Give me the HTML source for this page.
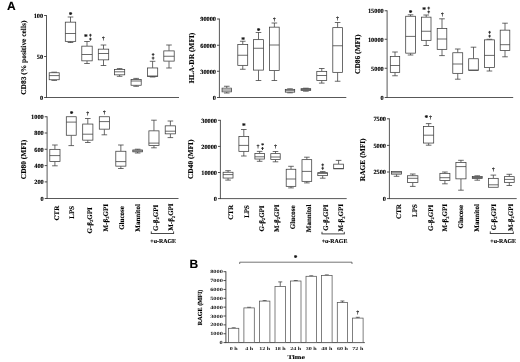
<!DOCTYPE html>
<html><head><meta charset="utf-8"><style>
html,body{margin:0;padding:0;background:#fff;}
svg{display:block;position:absolute;left:0;top:0;filter:grayscale(1);}
text{fill:#000;text-rendering:geometricPrecision;stroke:#000;stroke-width:0.12px;}
</style></head><body>
<svg width="520" height="362" viewBox="0 0 520 362">
<rect x="0" y="0" width="520" height="362" fill="#fff"/>
<line x1="46.50" y1="15.10" x2="46.50" y2="97.90" stroke="#3a3a3a" stroke-width="0.85"/>
<line x1="46.10" y1="97.50" x2="179.00" y2="97.50" stroke="#3a3a3a" stroke-width="0.85"/>
<line x1="44.10" y1="15.50" x2="46.50" y2="15.50" stroke="#3a3a3a" stroke-width="0.9"/>
<text x="43.10" y="17.80" font-size="6.3" text-anchor="end" font-weight="bold" font-family="Liberation Serif, serif" >100</text>
<line x1="44.10" y1="56.50" x2="46.50" y2="56.50" stroke="#3a3a3a" stroke-width="0.9"/>
<text x="43.10" y="58.80" font-size="6.3" text-anchor="end" font-weight="bold" font-family="Liberation Serif, serif" >50</text>
<line x1="44.10" y1="97.50" x2="46.50" y2="97.50" stroke="#3a3a3a" stroke-width="0.9"/>
<text x="43.10" y="99.80" font-size="6.3" text-anchor="end" font-weight="bold" font-family="Liberation Serif, serif" >0</text>
<text x="25.80" y="57.70" font-size="7.45" text-anchor="middle" font-weight="bold" font-family="Liberation Serif, serif" transform="rotate(-90 25.80 57.70)" >CD83 (% positive cells)</text>
<line x1="54.20" y1="72.20" x2="54.20" y2="72.60" stroke="#3a3a3a" stroke-width="0.75"/>
<line x1="51.40" y1="72.20" x2="57.00" y2="72.20" stroke="#3a3a3a" stroke-width="0.75"/>
<line x1="54.20" y1="79.90" x2="54.20" y2="80.40" stroke="#3a3a3a" stroke-width="0.75"/>
<line x1="51.40" y1="80.40" x2="57.00" y2="80.40" stroke="#3a3a3a" stroke-width="0.75"/>
<rect x="49.20" y="72.75" width="10.00" height="7.00" fill="#fff" stroke="#3a3a3a" stroke-width="0.75"/>
<line x1="49.20" y1="75.60" x2="59.20" y2="75.60" stroke="#3a3a3a" stroke-width="0.75"/>
<line x1="70.50" y1="17.00" x2="70.50" y2="22.00" stroke="#3a3a3a" stroke-width="0.75"/>
<line x1="67.70" y1="17.00" x2="73.30" y2="17.00" stroke="#3a3a3a" stroke-width="0.75"/>
<line x1="70.50" y1="41.50" x2="70.50" y2="42.50" stroke="#3a3a3a" stroke-width="0.75"/>
<line x1="67.70" y1="42.50" x2="73.30" y2="42.50" stroke="#3a3a3a" stroke-width="0.75"/>
<rect x="65.30" y="22.15" width="10.40" height="19.20" fill="#fff" stroke="#3a3a3a" stroke-width="0.75"/>
<line x1="65.30" y1="33.50" x2="75.70" y2="33.50" stroke="#3a3a3a" stroke-width="0.75"/>
<line x1="87.00" y1="41.50" x2="87.00" y2="46.00" stroke="#3a3a3a" stroke-width="0.75"/>
<line x1="84.20" y1="41.50" x2="89.80" y2="41.50" stroke="#3a3a3a" stroke-width="0.75"/>
<line x1="87.00" y1="61.00" x2="87.00" y2="63.50" stroke="#3a3a3a" stroke-width="0.75"/>
<line x1="84.20" y1="63.50" x2="89.80" y2="63.50" stroke="#3a3a3a" stroke-width="0.75"/>
<rect x="81.80" y="46.15" width="10.40" height="14.70" fill="#fff" stroke="#3a3a3a" stroke-width="0.75"/>
<line x1="81.80" y1="54.50" x2="92.20" y2="54.50" stroke="#3a3a3a" stroke-width="0.75"/>
<line x1="103.50" y1="45.00" x2="103.50" y2="49.00" stroke="#3a3a3a" stroke-width="0.75"/>
<line x1="100.70" y1="45.00" x2="106.30" y2="45.00" stroke="#3a3a3a" stroke-width="0.75"/>
<line x1="103.50" y1="60.00" x2="103.50" y2="65.50" stroke="#3a3a3a" stroke-width="0.75"/>
<line x1="100.70" y1="65.50" x2="106.30" y2="65.50" stroke="#3a3a3a" stroke-width="0.75"/>
<rect x="98.30" y="49.15" width="10.40" height="10.70" fill="#fff" stroke="#3a3a3a" stroke-width="0.75"/>
<line x1="98.30" y1="53.50" x2="108.70" y2="53.50" stroke="#3a3a3a" stroke-width="0.75"/>
<line x1="119.62" y1="68.60" x2="119.62" y2="69.30" stroke="#3a3a3a" stroke-width="0.75"/>
<line x1="116.83" y1="68.60" x2="122.42" y2="68.60" stroke="#3a3a3a" stroke-width="0.75"/>
<line x1="119.62" y1="75.00" x2="119.62" y2="76.30" stroke="#3a3a3a" stroke-width="0.75"/>
<line x1="116.83" y1="76.30" x2="122.42" y2="76.30" stroke="#3a3a3a" stroke-width="0.75"/>
<rect x="114.55" y="69.45" width="10.15" height="5.40" fill="#fff" stroke="#3a3a3a" stroke-width="0.75"/>
<line x1="114.55" y1="71.80" x2="124.70" y2="71.80" stroke="#3a3a3a" stroke-width="0.75"/>
<line x1="136.12" y1="78.40" x2="136.12" y2="79.30" stroke="#3a3a3a" stroke-width="0.75"/>
<line x1="133.32" y1="78.40" x2="138.93" y2="78.40" stroke="#3a3a3a" stroke-width="0.75"/>
<line x1="136.12" y1="85.40" x2="136.12" y2="86.30" stroke="#3a3a3a" stroke-width="0.75"/>
<line x1="133.32" y1="86.30" x2="138.93" y2="86.30" stroke="#3a3a3a" stroke-width="0.75"/>
<rect x="131.05" y="79.45" width="10.15" height="5.80" fill="#fff" stroke="#3a3a3a" stroke-width="0.75"/>
<line x1="131.05" y1="81.00" x2="141.20" y2="81.00" stroke="#3a3a3a" stroke-width="0.75"/>
<line x1="152.60" y1="61.30" x2="152.60" y2="67.80" stroke="#3a3a3a" stroke-width="0.75"/>
<line x1="149.80" y1="61.30" x2="155.40" y2="61.30" stroke="#3a3a3a" stroke-width="0.75"/>
<line x1="152.60" y1="76.50" x2="152.60" y2="77.00" stroke="#3a3a3a" stroke-width="0.75"/>
<line x1="149.80" y1="77.00" x2="155.40" y2="77.00" stroke="#3a3a3a" stroke-width="0.75"/>
<rect x="147.50" y="67.95" width="10.20" height="8.40" fill="#fff" stroke="#3a3a3a" stroke-width="0.75"/>
<line x1="147.50" y1="76.00" x2="157.70" y2="76.00" stroke="#3a3a3a" stroke-width="0.75"/>
<line x1="169.00" y1="45.00" x2="169.00" y2="50.75" stroke="#3a3a3a" stroke-width="0.75"/>
<line x1="166.20" y1="45.00" x2="171.80" y2="45.00" stroke="#3a3a3a" stroke-width="0.75"/>
<line x1="169.00" y1="61.25" x2="169.00" y2="68.00" stroke="#3a3a3a" stroke-width="0.75"/>
<line x1="166.20" y1="68.00" x2="171.80" y2="68.00" stroke="#3a3a3a" stroke-width="0.75"/>
<rect x="163.80" y="50.90" width="10.40" height="10.20" fill="#fff" stroke="#3a3a3a" stroke-width="0.75"/>
<line x1="163.80" y1="56.25" x2="174.20" y2="56.25" stroke="#3a3a3a" stroke-width="0.75"/>
<text x="70.60" y="17.23" font-size="7.4" text-anchor="middle" font-weight="bold" font-family="Liberation Serif, serif" >*</text>
<text x="85.80" y="38.73" font-size="7.4" text-anchor="middle" font-weight="bold" font-family="Liberation Serif, serif" >*</text>
<line x1="90.40" y1="33.80" x2="90.40" y2="36.80" stroke="#222" stroke-width="0.9"/>
<line x1="89.05" y1="35.10" x2="91.75" y2="35.10" stroke="#222" stroke-width="0.9"/>
<line x1="90.40" y1="37.70" x2="90.40" y2="40.70" stroke="#222" stroke-width="0.9"/>
<line x1="89.05" y1="39.00" x2="91.75" y2="39.00" stroke="#222" stroke-width="0.9"/>
<text x="103.30" y="40.40" font-size="5.1" text-anchor="middle" font-weight="bold" font-family="Liberation Serif, serif" >†</text>
<line x1="153.10" y1="53.10" x2="153.10" y2="56.10" stroke="#222" stroke-width="0.9"/>
<line x1="151.75" y1="54.40" x2="154.45" y2="54.40" stroke="#222" stroke-width="0.9"/>
<line x1="153.10" y1="56.70" x2="153.10" y2="59.70" stroke="#222" stroke-width="0.9"/>
<line x1="151.75" y1="58.00" x2="154.45" y2="58.00" stroke="#222" stroke-width="0.9"/>
<line x1="219.40" y1="18.60" x2="219.40" y2="97.90" stroke="#3a3a3a" stroke-width="0.85"/>
<line x1="219.00" y1="97.50" x2="346.30" y2="97.50" stroke="#3a3a3a" stroke-width="0.85"/>
<line x1="217.00" y1="19.00" x2="219.40" y2="19.00" stroke="#3a3a3a" stroke-width="0.9"/>
<text x="216.00" y="21.30" font-size="6.3" text-anchor="end" font-weight="bold" font-family="Liberation Serif, serif" >90000</text>
<line x1="217.00" y1="45.25" x2="219.40" y2="45.25" stroke="#3a3a3a" stroke-width="0.9"/>
<text x="216.00" y="47.55" font-size="6.3" text-anchor="end" font-weight="bold" font-family="Liberation Serif, serif" >60000</text>
<line x1="217.00" y1="71.25" x2="219.40" y2="71.25" stroke="#3a3a3a" stroke-width="0.9"/>
<text x="216.00" y="73.55" font-size="6.3" text-anchor="end" font-weight="bold" font-family="Liberation Serif, serif" >30000</text>
<line x1="217.00" y1="97.50" x2="219.40" y2="97.50" stroke="#3a3a3a" stroke-width="0.9"/>
<text x="216.00" y="99.80" font-size="6.3" text-anchor="end" font-weight="bold" font-family="Liberation Serif, serif" >0</text>
<text x="194.00" y="58.00" font-size="7.45" text-anchor="middle" font-weight="bold" font-family="Liberation Serif, serif" transform="rotate(-90 194.00 58.00)" >HLA-DR (MFI)</text>
<line x1="226.75" y1="86.25" x2="226.75" y2="88.00" stroke="#3a3a3a" stroke-width="0.75"/>
<line x1="223.95" y1="86.25" x2="229.55" y2="86.25" stroke="#3a3a3a" stroke-width="0.75"/>
<line x1="226.75" y1="92.00" x2="226.75" y2="93.00" stroke="#3a3a3a" stroke-width="0.75"/>
<line x1="223.95" y1="93.00" x2="229.55" y2="93.00" stroke="#3a3a3a" stroke-width="0.75"/>
<rect x="222.05" y="88.15" width="9.40" height="3.70" fill="#fff" stroke="#3a3a3a" stroke-width="0.75"/>
<line x1="222.05" y1="90.00" x2="231.45" y2="90.00" stroke="#3a3a3a" stroke-width="0.75"/>
<line x1="242.75" y1="41.25" x2="242.75" y2="44.25" stroke="#3a3a3a" stroke-width="0.75"/>
<line x1="239.95" y1="41.25" x2="245.55" y2="41.25" stroke="#3a3a3a" stroke-width="0.75"/>
<line x1="242.75" y1="65.50" x2="242.75" y2="69.25" stroke="#3a3a3a" stroke-width="0.75"/>
<line x1="239.95" y1="69.25" x2="245.55" y2="69.25" stroke="#3a3a3a" stroke-width="0.75"/>
<rect x="237.80" y="44.40" width="9.90" height="20.95" fill="#fff" stroke="#3a3a3a" stroke-width="0.75"/>
<line x1="237.80" y1="55.25" x2="247.70" y2="55.25" stroke="#3a3a3a" stroke-width="0.75"/>
<line x1="258.50" y1="32.50" x2="258.50" y2="39.50" stroke="#3a3a3a" stroke-width="0.75"/>
<line x1="255.70" y1="32.50" x2="261.30" y2="32.50" stroke="#3a3a3a" stroke-width="0.75"/>
<line x1="258.50" y1="70.25" x2="258.50" y2="80.50" stroke="#3a3a3a" stroke-width="0.75"/>
<line x1="255.70" y1="80.50" x2="261.30" y2="80.50" stroke="#3a3a3a" stroke-width="0.75"/>
<rect x="253.55" y="39.65" width="9.90" height="30.45" fill="#fff" stroke="#3a3a3a" stroke-width="0.75"/>
<line x1="253.55" y1="48.25" x2="263.45" y2="48.25" stroke="#3a3a3a" stroke-width="0.75"/>
<line x1="274.38" y1="23.00" x2="274.38" y2="27.00" stroke="#3a3a3a" stroke-width="0.75"/>
<line x1="271.57" y1="23.00" x2="277.18" y2="23.00" stroke="#3a3a3a" stroke-width="0.75"/>
<line x1="274.38" y1="70.75" x2="274.38" y2="80.50" stroke="#3a3a3a" stroke-width="0.75"/>
<line x1="271.57" y1="80.50" x2="277.18" y2="80.50" stroke="#3a3a3a" stroke-width="0.75"/>
<rect x="269.55" y="27.15" width="9.65" height="43.45" fill="#fff" stroke="#3a3a3a" stroke-width="0.75"/>
<line x1="269.55" y1="45.00" x2="279.20" y2="45.00" stroke="#3a3a3a" stroke-width="0.75"/>
<line x1="290.00" y1="88.80" x2="290.00" y2="89.20" stroke="#3a3a3a" stroke-width="0.75"/>
<line x1="287.20" y1="88.80" x2="292.80" y2="88.80" stroke="#3a3a3a" stroke-width="0.75"/>
<line x1="290.00" y1="92.30" x2="290.00" y2="92.80" stroke="#3a3a3a" stroke-width="0.75"/>
<line x1="287.20" y1="92.80" x2="292.80" y2="92.80" stroke="#3a3a3a" stroke-width="0.75"/>
<rect x="285.30" y="89.35" width="9.40" height="2.80" fill="#fff" stroke="#3a3a3a" stroke-width="0.75"/>
<line x1="285.30" y1="90.70" x2="294.70" y2="90.70" stroke="#3a3a3a" stroke-width="0.75"/>
<line x1="305.88" y1="88.20" x2="305.88" y2="88.50" stroke="#3a3a3a" stroke-width="0.75"/>
<line x1="303.07" y1="88.20" x2="308.68" y2="88.20" stroke="#3a3a3a" stroke-width="0.75"/>
<line x1="305.88" y1="90.75" x2="305.88" y2="91.20" stroke="#3a3a3a" stroke-width="0.75"/>
<line x1="303.07" y1="91.20" x2="308.68" y2="91.20" stroke="#3a3a3a" stroke-width="0.75"/>
<rect x="301.05" y="88.65" width="9.65" height="1.95" fill="#fff" stroke="#3a3a3a" stroke-width="0.75"/>
<line x1="301.05" y1="89.50" x2="310.70" y2="89.50" stroke="#3a3a3a" stroke-width="0.75"/>
<line x1="321.75" y1="68.50" x2="321.75" y2="71.20" stroke="#3a3a3a" stroke-width="0.75"/>
<line x1="318.95" y1="68.50" x2="324.55" y2="68.50" stroke="#3a3a3a" stroke-width="0.75"/>
<line x1="321.75" y1="80.60" x2="321.75" y2="83.10" stroke="#3a3a3a" stroke-width="0.75"/>
<line x1="318.95" y1="83.10" x2="324.55" y2="83.10" stroke="#3a3a3a" stroke-width="0.75"/>
<rect x="316.80" y="71.35" width="9.90" height="9.10" fill="#fff" stroke="#3a3a3a" stroke-width="0.75"/>
<line x1="316.80" y1="75.50" x2="326.70" y2="75.50" stroke="#3a3a3a" stroke-width="0.75"/>
<line x1="337.62" y1="22.50" x2="337.62" y2="27.50" stroke="#3a3a3a" stroke-width="0.75"/>
<line x1="334.82" y1="22.50" x2="340.43" y2="22.50" stroke="#3a3a3a" stroke-width="0.75"/>
<line x1="337.62" y1="72.50" x2="337.62" y2="81.25" stroke="#3a3a3a" stroke-width="0.75"/>
<line x1="334.82" y1="81.25" x2="340.43" y2="81.25" stroke="#3a3a3a" stroke-width="0.75"/>
<rect x="332.80" y="27.65" width="9.65" height="44.70" fill="#fff" stroke="#3a3a3a" stroke-width="0.75"/>
<line x1="332.80" y1="45.75" x2="342.45" y2="45.75" stroke="#3a3a3a" stroke-width="0.75"/>
<text x="243.00" y="41.53" font-size="7.4" text-anchor="middle" font-weight="bold" font-family="Liberation Serif, serif" >*</text>
<text x="258.70" y="32.83" font-size="7.4" text-anchor="middle" font-weight="bold" font-family="Liberation Serif, serif" >*</text>
<text x="274.30" y="20.75" font-size="5.1" text-anchor="middle" font-weight="bold" font-family="Liberation Serif, serif" >†</text>
<text x="337.40" y="20.15" font-size="5.1" text-anchor="middle" font-weight="bold" font-family="Liberation Serif, serif" >†</text>
<line x1="387.10" y1="10.35" x2="387.10" y2="97.90" stroke="#3a3a3a" stroke-width="0.85"/>
<line x1="386.70" y1="97.50" x2="513.20" y2="97.50" stroke="#3a3a3a" stroke-width="0.85"/>
<line x1="384.70" y1="10.75" x2="387.10" y2="10.75" stroke="#3a3a3a" stroke-width="0.9"/>
<text x="383.70" y="13.05" font-size="6.3" text-anchor="end" font-weight="bold" font-family="Liberation Serif, serif" >15000</text>
<line x1="384.70" y1="39.25" x2="387.10" y2="39.25" stroke="#3a3a3a" stroke-width="0.9"/>
<text x="383.70" y="41.55" font-size="6.3" text-anchor="end" font-weight="bold" font-family="Liberation Serif, serif" >10000</text>
<line x1="384.70" y1="68.25" x2="387.10" y2="68.25" stroke="#3a3a3a" stroke-width="0.9"/>
<text x="383.70" y="70.55" font-size="6.3" text-anchor="end" font-weight="bold" font-family="Liberation Serif, serif" >5000</text>
<line x1="384.70" y1="97.50" x2="387.10" y2="97.50" stroke="#3a3a3a" stroke-width="0.9"/>
<text x="383.70" y="99.80" font-size="6.3" text-anchor="end" font-weight="bold" font-family="Liberation Serif, serif" >0</text>
<text x="360.40" y="54.25" font-size="7.45" text-anchor="middle" font-weight="bold" font-family="Liberation Serif, serif" transform="rotate(-90 360.40 54.25)" >CD86 (MFI)</text>
<line x1="395.00" y1="52.00" x2="395.00" y2="56.25" stroke="#3a3a3a" stroke-width="0.75"/>
<line x1="392.20" y1="52.00" x2="397.80" y2="52.00" stroke="#3a3a3a" stroke-width="0.75"/>
<line x1="395.00" y1="72.50" x2="395.00" y2="75.75" stroke="#3a3a3a" stroke-width="0.75"/>
<line x1="392.20" y1="75.75" x2="397.80" y2="75.75" stroke="#3a3a3a" stroke-width="0.75"/>
<rect x="390.30" y="56.40" width="9.40" height="15.95" fill="#fff" stroke="#3a3a3a" stroke-width="0.75"/>
<line x1="390.30" y1="65.50" x2="399.70" y2="65.50" stroke="#3a3a3a" stroke-width="0.75"/>
<line x1="410.55" y1="14.80" x2="410.55" y2="16.10" stroke="#3a3a3a" stroke-width="0.75"/>
<line x1="407.75" y1="14.80" x2="413.35" y2="14.80" stroke="#3a3a3a" stroke-width="0.75"/>
<line x1="410.55" y1="53.30" x2="410.55" y2="55.00" stroke="#3a3a3a" stroke-width="0.75"/>
<line x1="407.75" y1="55.00" x2="413.35" y2="55.00" stroke="#3a3a3a" stroke-width="0.75"/>
<rect x="405.70" y="16.25" width="9.70" height="36.90" fill="#fff" stroke="#3a3a3a" stroke-width="0.75"/>
<line x1="405.70" y1="36.40" x2="415.40" y2="36.40" stroke="#3a3a3a" stroke-width="0.75"/>
<line x1="426.20" y1="15.00" x2="426.20" y2="17.00" stroke="#3a3a3a" stroke-width="0.75"/>
<line x1="423.40" y1="15.00" x2="429.00" y2="15.00" stroke="#3a3a3a" stroke-width="0.75"/>
<line x1="426.20" y1="40.50" x2="426.20" y2="45.50" stroke="#3a3a3a" stroke-width="0.75"/>
<line x1="423.40" y1="45.50" x2="429.00" y2="45.50" stroke="#3a3a3a" stroke-width="0.75"/>
<rect x="421.40" y="17.15" width="9.60" height="23.20" fill="#fff" stroke="#3a3a3a" stroke-width="0.75"/>
<line x1="421.40" y1="31.25" x2="431.00" y2="31.25" stroke="#3a3a3a" stroke-width="0.75"/>
<line x1="442.00" y1="18.80" x2="442.00" y2="28.40" stroke="#3a3a3a" stroke-width="0.75"/>
<line x1="439.20" y1="18.80" x2="444.80" y2="18.80" stroke="#3a3a3a" stroke-width="0.75"/>
<line x1="442.00" y1="49.50" x2="442.00" y2="55.60" stroke="#3a3a3a" stroke-width="0.75"/>
<line x1="439.20" y1="55.60" x2="444.80" y2="55.60" stroke="#3a3a3a" stroke-width="0.75"/>
<rect x="437.20" y="28.55" width="9.60" height="20.80" fill="#fff" stroke="#3a3a3a" stroke-width="0.75"/>
<line x1="437.20" y1="39.00" x2="446.80" y2="39.00" stroke="#3a3a3a" stroke-width="0.75"/>
<line x1="457.75" y1="49.00" x2="457.75" y2="52.60" stroke="#3a3a3a" stroke-width="0.75"/>
<line x1="454.95" y1="49.00" x2="460.55" y2="49.00" stroke="#3a3a3a" stroke-width="0.75"/>
<line x1="457.75" y1="73.50" x2="457.75" y2="79.20" stroke="#3a3a3a" stroke-width="0.75"/>
<line x1="454.95" y1="79.20" x2="460.55" y2="79.20" stroke="#3a3a3a" stroke-width="0.75"/>
<rect x="452.80" y="52.75" width="9.90" height="20.60" fill="#fff" stroke="#3a3a3a" stroke-width="0.75"/>
<line x1="452.80" y1="64.00" x2="462.70" y2="64.00" stroke="#3a3a3a" stroke-width="0.75"/>
<line x1="473.50" y1="47.20" x2="473.50" y2="58.60" stroke="#3a3a3a" stroke-width="0.75"/>
<line x1="470.70" y1="47.20" x2="476.30" y2="47.20" stroke="#3a3a3a" stroke-width="0.75"/>
<rect x="468.70" y="58.75" width="9.60" height="11.60" fill="#fff" stroke="#3a3a3a" stroke-width="0.75"/>
<line x1="468.70" y1="70.00" x2="478.30" y2="70.00" stroke="#3a3a3a" stroke-width="0.75"/>
<line x1="489.45" y1="39.30" x2="489.45" y2="39.70" stroke="#3a3a3a" stroke-width="0.75"/>
<line x1="486.65" y1="39.30" x2="492.25" y2="39.30" stroke="#3a3a3a" stroke-width="0.75"/>
<line x1="489.45" y1="67.70" x2="489.45" y2="71.00" stroke="#3a3a3a" stroke-width="0.75"/>
<line x1="486.65" y1="71.00" x2="492.25" y2="71.00" stroke="#3a3a3a" stroke-width="0.75"/>
<rect x="484.50" y="39.85" width="9.90" height="27.70" fill="#fff" stroke="#3a3a3a" stroke-width="0.75"/>
<line x1="484.50" y1="55.40" x2="494.40" y2="55.40" stroke="#3a3a3a" stroke-width="0.75"/>
<line x1="505.00" y1="23.20" x2="505.00" y2="30.00" stroke="#3a3a3a" stroke-width="0.75"/>
<line x1="502.20" y1="23.20" x2="507.80" y2="23.20" stroke="#3a3a3a" stroke-width="0.75"/>
<line x1="505.00" y1="50.60" x2="505.00" y2="56.80" stroke="#3a3a3a" stroke-width="0.75"/>
<line x1="502.20" y1="56.80" x2="507.80" y2="56.80" stroke="#3a3a3a" stroke-width="0.75"/>
<rect x="500.20" y="30.15" width="9.60" height="20.30" fill="#fff" stroke="#3a3a3a" stroke-width="0.75"/>
<line x1="500.20" y1="44.70" x2="509.80" y2="44.70" stroke="#3a3a3a" stroke-width="0.75"/>
<text x="410.70" y="14.93" font-size="7.4" text-anchor="middle" font-weight="bold" font-family="Liberation Serif, serif" >*</text>
<text x="424.20" y="11.63" font-size="7.4" text-anchor="middle" font-weight="bold" font-family="Liberation Serif, serif" >*</text>
<line x1="428.70" y1="6.70" x2="428.70" y2="9.70" stroke="#222" stroke-width="0.9"/>
<line x1="427.35" y1="8.00" x2="430.05" y2="8.00" stroke="#222" stroke-width="0.9"/>
<line x1="428.70" y1="10.50" x2="428.70" y2="13.50" stroke="#222" stroke-width="0.9"/>
<line x1="427.35" y1="11.80" x2="430.05" y2="11.80" stroke="#222" stroke-width="0.9"/>
<text x="442.30" y="15.55" font-size="5.1" text-anchor="middle" font-weight="bold" font-family="Liberation Serif, serif" >†</text>
<line x1="489.60" y1="30.90" x2="489.60" y2="33.90" stroke="#222" stroke-width="0.9"/>
<line x1="488.25" y1="32.20" x2="490.95" y2="32.20" stroke="#222" stroke-width="0.9"/>
<line x1="489.60" y1="34.70" x2="489.60" y2="37.70" stroke="#222" stroke-width="0.9"/>
<line x1="488.25" y1="36.00" x2="490.95" y2="36.00" stroke="#222" stroke-width="0.9"/>
<line x1="47.10" y1="116.35" x2="47.10" y2="198.90" stroke="#3a3a3a" stroke-width="0.85"/>
<line x1="46.70" y1="198.50" x2="178.50" y2="198.50" stroke="#3a3a3a" stroke-width="0.85"/>
<line x1="44.70" y1="116.75" x2="47.10" y2="116.75" stroke="#3a3a3a" stroke-width="0.9"/>
<text x="43.70" y="119.05" font-size="6.3" text-anchor="end" font-weight="bold" font-family="Liberation Serif, serif" >1000</text>
<line x1="44.70" y1="133.00" x2="47.10" y2="133.00" stroke="#3a3a3a" stroke-width="0.9"/>
<text x="43.70" y="135.30" font-size="6.3" text-anchor="end" font-weight="bold" font-family="Liberation Serif, serif" >800</text>
<line x1="44.70" y1="149.25" x2="47.10" y2="149.25" stroke="#3a3a3a" stroke-width="0.9"/>
<text x="43.70" y="151.55" font-size="6.3" text-anchor="end" font-weight="bold" font-family="Liberation Serif, serif" >600</text>
<line x1="44.70" y1="165.60" x2="47.10" y2="165.60" stroke="#3a3a3a" stroke-width="0.9"/>
<text x="43.70" y="167.90" font-size="6.3" text-anchor="end" font-weight="bold" font-family="Liberation Serif, serif" >400</text>
<line x1="44.70" y1="181.90" x2="47.10" y2="181.90" stroke="#3a3a3a" stroke-width="0.9"/>
<text x="43.70" y="184.20" font-size="6.3" text-anchor="end" font-weight="bold" font-family="Liberation Serif, serif" >200</text>
<line x1="44.70" y1="198.50" x2="47.10" y2="198.50" stroke="#3a3a3a" stroke-width="0.9"/>
<text x="43.70" y="200.80" font-size="6.3" text-anchor="end" font-weight="bold" font-family="Liberation Serif, serif" >0</text>
<text x="25.90" y="159.50" font-size="7.45" text-anchor="middle" font-weight="bold" font-family="Liberation Serif, serif" transform="rotate(-90 25.90 159.50)" >CD80 (MFI)</text>
<line x1="54.90" y1="145.00" x2="54.90" y2="149.20" stroke="#3a3a3a" stroke-width="0.75"/>
<line x1="52.10" y1="145.00" x2="57.70" y2="145.00" stroke="#3a3a3a" stroke-width="0.75"/>
<line x1="54.90" y1="161.60" x2="54.90" y2="165.80" stroke="#3a3a3a" stroke-width="0.75"/>
<line x1="52.10" y1="165.80" x2="57.70" y2="165.80" stroke="#3a3a3a" stroke-width="0.75"/>
<rect x="49.80" y="149.35" width="10.20" height="12.10" fill="#fff" stroke="#3a3a3a" stroke-width="0.75"/>
<line x1="49.80" y1="155.60" x2="60.00" y2="155.60" stroke="#3a3a3a" stroke-width="0.75"/>
<line x1="71.25" y1="135.40" x2="71.25" y2="145.60" stroke="#3a3a3a" stroke-width="0.75"/>
<line x1="68.45" y1="145.60" x2="74.05" y2="145.60" stroke="#3a3a3a" stroke-width="0.75"/>
<rect x="66.30" y="116.75" width="9.90" height="18.50" fill="#fff" stroke="#3a3a3a" stroke-width="0.75"/>
<line x1="66.30" y1="122.10" x2="76.20" y2="122.10" stroke="#3a3a3a" stroke-width="0.75"/>
<line x1="87.80" y1="118.50" x2="87.80" y2="123.90" stroke="#3a3a3a" stroke-width="0.75"/>
<line x1="85.00" y1="118.50" x2="90.60" y2="118.50" stroke="#3a3a3a" stroke-width="0.75"/>
<line x1="87.80" y1="140.30" x2="87.80" y2="142.50" stroke="#3a3a3a" stroke-width="0.75"/>
<line x1="85.00" y1="142.50" x2="90.60" y2="142.50" stroke="#3a3a3a" stroke-width="0.75"/>
<rect x="82.70" y="124.05" width="10.20" height="16.10" fill="#fff" stroke="#3a3a3a" stroke-width="0.75"/>
<line x1="82.70" y1="134.20" x2="92.90" y2="134.20" stroke="#3a3a3a" stroke-width="0.75"/>
<line x1="104.35" y1="129.30" x2="104.35" y2="134.80" stroke="#3a3a3a" stroke-width="0.75"/>
<line x1="101.55" y1="134.80" x2="107.15" y2="134.80" stroke="#3a3a3a" stroke-width="0.75"/>
<rect x="99.30" y="116.75" width="10.10" height="12.40" fill="#fff" stroke="#3a3a3a" stroke-width="0.75"/>
<line x1="99.30" y1="121.60" x2="109.40" y2="121.60" stroke="#3a3a3a" stroke-width="0.75"/>
<line x1="120.85" y1="145.00" x2="120.85" y2="151.10" stroke="#3a3a3a" stroke-width="0.75"/>
<line x1="118.05" y1="145.00" x2="123.65" y2="145.00" stroke="#3a3a3a" stroke-width="0.75"/>
<line x1="120.85" y1="166.30" x2="120.85" y2="168.50" stroke="#3a3a3a" stroke-width="0.75"/>
<line x1="118.05" y1="168.50" x2="123.65" y2="168.50" stroke="#3a3a3a" stroke-width="0.75"/>
<rect x="115.80" y="151.25" width="10.10" height="14.90" fill="#fff" stroke="#3a3a3a" stroke-width="0.75"/>
<line x1="115.80" y1="161.60" x2="125.90" y2="161.60" stroke="#3a3a3a" stroke-width="0.75"/>
<line x1="137.65" y1="149.20" x2="137.65" y2="149.80" stroke="#3a3a3a" stroke-width="0.75"/>
<line x1="134.85" y1="149.20" x2="140.45" y2="149.20" stroke="#3a3a3a" stroke-width="0.75"/>
<line x1="137.65" y1="152.00" x2="137.65" y2="153.00" stroke="#3a3a3a" stroke-width="0.75"/>
<line x1="134.85" y1="153.00" x2="140.45" y2="153.00" stroke="#3a3a3a" stroke-width="0.75"/>
<rect x="132.80" y="149.95" width="9.70" height="1.90" fill="#fff" stroke="#3a3a3a" stroke-width="0.75"/>
<line x1="132.80" y1="150.90" x2="142.50" y2="150.90" stroke="#3a3a3a" stroke-width="0.75"/>
<line x1="153.95" y1="120.20" x2="153.95" y2="130.70" stroke="#3a3a3a" stroke-width="0.75"/>
<line x1="151.15" y1="120.20" x2="156.75" y2="120.20" stroke="#3a3a3a" stroke-width="0.75"/>
<line x1="153.95" y1="145.60" x2="153.95" y2="147.80" stroke="#3a3a3a" stroke-width="0.75"/>
<line x1="151.15" y1="147.80" x2="156.75" y2="147.80" stroke="#3a3a3a" stroke-width="0.75"/>
<rect x="148.90" y="130.85" width="10.10" height="14.60" fill="#fff" stroke="#3a3a3a" stroke-width="0.75"/>
<line x1="148.90" y1="143.10" x2="159.00" y2="143.10" stroke="#3a3a3a" stroke-width="0.75"/>
<line x1="170.40" y1="121.00" x2="170.40" y2="125.70" stroke="#3a3a3a" stroke-width="0.75"/>
<line x1="167.60" y1="121.00" x2="173.20" y2="121.00" stroke="#3a3a3a" stroke-width="0.75"/>
<line x1="170.40" y1="134.00" x2="170.40" y2="137.60" stroke="#3a3a3a" stroke-width="0.75"/>
<line x1="167.60" y1="137.60" x2="173.20" y2="137.60" stroke="#3a3a3a" stroke-width="0.75"/>
<rect x="165.20" y="125.85" width="10.40" height="8.00" fill="#fff" stroke="#3a3a3a" stroke-width="0.75"/>
<line x1="165.20" y1="131.20" x2="175.60" y2="131.20" stroke="#3a3a3a" stroke-width="0.75"/>
<text x="71.60" y="115.53" font-size="7.4" text-anchor="middle" font-weight="bold" font-family="Liberation Serif, serif" >*</text>
<text x="87.80" y="115.45" font-size="5.1" text-anchor="middle" font-weight="bold" font-family="Liberation Serif, serif" >†</text>
<text x="104.30" y="113.95" font-size="5.1" text-anchor="middle" font-weight="bold" font-family="Liberation Serif, serif" >†</text>
<line x1="220.40" y1="119.90" x2="220.40" y2="199.00" stroke="#3a3a3a" stroke-width="0.85"/>
<line x1="220.00" y1="198.60" x2="346.70" y2="198.60" stroke="#3a3a3a" stroke-width="0.85"/>
<line x1="218.00" y1="120.30" x2="220.40" y2="120.30" stroke="#3a3a3a" stroke-width="0.9"/>
<text x="217.00" y="122.60" font-size="6.3" text-anchor="end" font-weight="bold" font-family="Liberation Serif, serif" >30000</text>
<line x1="218.00" y1="146.40" x2="220.40" y2="146.40" stroke="#3a3a3a" stroke-width="0.9"/>
<text x="217.00" y="148.70" font-size="6.3" text-anchor="end" font-weight="bold" font-family="Liberation Serif, serif" >20000</text>
<line x1="218.00" y1="172.50" x2="220.40" y2="172.50" stroke="#3a3a3a" stroke-width="0.9"/>
<text x="217.00" y="174.80" font-size="6.3" text-anchor="end" font-weight="bold" font-family="Liberation Serif, serif" >10000</text>
<line x1="218.00" y1="198.60" x2="220.40" y2="198.60" stroke="#3a3a3a" stroke-width="0.9"/>
<text x="217.00" y="200.90" font-size="6.3" text-anchor="end" font-weight="bold" font-family="Liberation Serif, serif" >0</text>
<text x="193.20" y="159.30" font-size="7.45" text-anchor="middle" font-weight="bold" font-family="Liberation Serif, serif" transform="rotate(-90 193.20 159.30)" >CD40 (MFI)</text>
<line x1="228.05" y1="170.70" x2="228.05" y2="172.10" stroke="#3a3a3a" stroke-width="0.75"/>
<line x1="225.25" y1="170.70" x2="230.85" y2="170.70" stroke="#3a3a3a" stroke-width="0.75"/>
<line x1="228.05" y1="178.20" x2="228.05" y2="180.10" stroke="#3a3a3a" stroke-width="0.75"/>
<line x1="225.25" y1="180.10" x2="230.85" y2="180.10" stroke="#3a3a3a" stroke-width="0.75"/>
<rect x="223.10" y="172.25" width="9.90" height="5.80" fill="#fff" stroke="#3a3a3a" stroke-width="0.75"/>
<line x1="223.10" y1="174.60" x2="233.00" y2="174.60" stroke="#3a3a3a" stroke-width="0.75"/>
<line x1="243.80" y1="129.50" x2="243.80" y2="136.30" stroke="#3a3a3a" stroke-width="0.75"/>
<line x1="241.00" y1="129.50" x2="246.60" y2="129.50" stroke="#3a3a3a" stroke-width="0.75"/>
<line x1="243.80" y1="151.50" x2="243.80" y2="156.00" stroke="#3a3a3a" stroke-width="0.75"/>
<line x1="241.00" y1="156.00" x2="246.60" y2="156.00" stroke="#3a3a3a" stroke-width="0.75"/>
<rect x="238.90" y="136.45" width="9.80" height="14.90" fill="#fff" stroke="#3a3a3a" stroke-width="0.75"/>
<line x1="238.90" y1="145.40" x2="248.70" y2="145.40" stroke="#3a3a3a" stroke-width="0.75"/>
<line x1="259.65" y1="151.40" x2="259.65" y2="153.30" stroke="#3a3a3a" stroke-width="0.75"/>
<line x1="256.85" y1="151.40" x2="262.45" y2="151.40" stroke="#3a3a3a" stroke-width="0.75"/>
<line x1="259.65" y1="159.20" x2="259.65" y2="161.30" stroke="#3a3a3a" stroke-width="0.75"/>
<line x1="256.85" y1="161.30" x2="262.45" y2="161.30" stroke="#3a3a3a" stroke-width="0.75"/>
<rect x="254.90" y="153.45" width="9.50" height="5.60" fill="#fff" stroke="#3a3a3a" stroke-width="0.75"/>
<line x1="254.90" y1="156.80" x2="264.40" y2="156.80" stroke="#3a3a3a" stroke-width="0.75"/>
<line x1="275.50" y1="151.50" x2="275.50" y2="153.50" stroke="#3a3a3a" stroke-width="0.75"/>
<line x1="272.70" y1="151.50" x2="278.30" y2="151.50" stroke="#3a3a3a" stroke-width="0.75"/>
<line x1="275.50" y1="159.70" x2="275.50" y2="161.80" stroke="#3a3a3a" stroke-width="0.75"/>
<line x1="272.70" y1="161.80" x2="278.30" y2="161.80" stroke="#3a3a3a" stroke-width="0.75"/>
<rect x="270.80" y="153.65" width="9.40" height="5.90" fill="#fff" stroke="#3a3a3a" stroke-width="0.75"/>
<line x1="270.80" y1="157.00" x2="280.20" y2="157.00" stroke="#3a3a3a" stroke-width="0.75"/>
<line x1="291.00" y1="166.30" x2="291.00" y2="169.10" stroke="#3a3a3a" stroke-width="0.75"/>
<line x1="288.20" y1="166.30" x2="293.80" y2="166.30" stroke="#3a3a3a" stroke-width="0.75"/>
<line x1="291.00" y1="186.50" x2="291.00" y2="187.90" stroke="#3a3a3a" stroke-width="0.75"/>
<line x1="288.20" y1="187.90" x2="293.80" y2="187.90" stroke="#3a3a3a" stroke-width="0.75"/>
<rect x="286.20" y="169.25" width="9.60" height="17.10" fill="#fff" stroke="#3a3a3a" stroke-width="0.75"/>
<line x1="286.20" y1="179.00" x2="295.80" y2="179.00" stroke="#3a3a3a" stroke-width="0.75"/>
<line x1="306.85" y1="157.20" x2="306.85" y2="159.50" stroke="#3a3a3a" stroke-width="0.75"/>
<line x1="304.05" y1="157.20" x2="309.65" y2="157.20" stroke="#3a3a3a" stroke-width="0.75"/>
<line x1="306.85" y1="181.50" x2="306.85" y2="182.90" stroke="#3a3a3a" stroke-width="0.75"/>
<line x1="304.05" y1="182.90" x2="309.65" y2="182.90" stroke="#3a3a3a" stroke-width="0.75"/>
<rect x="302.00" y="159.65" width="9.70" height="21.70" fill="#fff" stroke="#3a3a3a" stroke-width="0.75"/>
<line x1="302.00" y1="171.40" x2="311.70" y2="171.40" stroke="#3a3a3a" stroke-width="0.75"/>
<line x1="322.70" y1="171.60" x2="322.70" y2="172.50" stroke="#3a3a3a" stroke-width="0.75"/>
<line x1="319.90" y1="171.60" x2="325.50" y2="171.60" stroke="#3a3a3a" stroke-width="0.75"/>
<line x1="322.70" y1="175.80" x2="322.70" y2="178.20" stroke="#3a3a3a" stroke-width="0.75"/>
<line x1="319.90" y1="178.20" x2="325.50" y2="178.20" stroke="#3a3a3a" stroke-width="0.75"/>
<rect x="317.80" y="172.65" width="9.80" height="3.00" fill="#fff" stroke="#3a3a3a" stroke-width="0.75"/>
<line x1="317.80" y1="173.40" x2="327.60" y2="173.40" stroke="#3a3a3a" stroke-width="0.75"/>
<line x1="338.60" y1="160.40" x2="338.60" y2="164.00" stroke="#3a3a3a" stroke-width="0.75"/>
<line x1="335.80" y1="160.40" x2="341.40" y2="160.40" stroke="#3a3a3a" stroke-width="0.75"/>
<rect x="333.70" y="164.15" width="9.80" height="4.70" fill="#fff" stroke="#3a3a3a" stroke-width="0.75"/>
<line x1="333.70" y1="168.50" x2="343.50" y2="168.50" stroke="#3a3a3a" stroke-width="0.75"/>
<text x="243.90" y="127.83" font-size="7.4" text-anchor="middle" font-weight="bold" font-family="Liberation Serif, serif" >*</text>
<text x="258.10" y="147.55" font-size="5.1" text-anchor="middle" font-weight="bold" font-family="Liberation Serif, serif" >†</text>
<text x="262.50" y="147.38" font-size="5.5" text-anchor="middle" font-weight="bold" font-family="Liberation Serif, serif" >*</text>
<line x1="262.50" y1="147.00" x2="262.50" y2="150.00" stroke="#222" stroke-width="0.9"/>
<line x1="261.15" y1="148.30" x2="263.85" y2="148.30" stroke="#222" stroke-width="0.9"/>
<text x="275.60" y="148.15" font-size="5.1" text-anchor="middle" font-weight="bold" font-family="Liberation Serif, serif" >†</text>
<line x1="322.70" y1="163.50" x2="322.70" y2="166.50" stroke="#222" stroke-width="0.9"/>
<line x1="321.35" y1="164.80" x2="324.05" y2="164.80" stroke="#222" stroke-width="0.9"/>
<line x1="322.70" y1="166.90" x2="322.70" y2="169.90" stroke="#222" stroke-width="0.9"/>
<line x1="321.35" y1="168.20" x2="324.05" y2="168.20" stroke="#222" stroke-width="0.9"/>
<line x1="389.40" y1="118.40" x2="389.40" y2="199.00" stroke="#3a3a3a" stroke-width="0.85"/>
<line x1="389.00" y1="198.60" x2="516.70" y2="198.60" stroke="#3a3a3a" stroke-width="0.85"/>
<line x1="387.00" y1="118.80" x2="389.40" y2="118.80" stroke="#3a3a3a" stroke-width="0.9"/>
<text x="386.00" y="121.10" font-size="6.3" text-anchor="end" font-weight="bold" font-family="Liberation Serif, serif" >7500</text>
<line x1="387.00" y1="145.40" x2="389.40" y2="145.40" stroke="#3a3a3a" stroke-width="0.9"/>
<text x="386.00" y="147.70" font-size="6.3" text-anchor="end" font-weight="bold" font-family="Liberation Serif, serif" >5000</text>
<line x1="387.00" y1="172.00" x2="389.40" y2="172.00" stroke="#3a3a3a" stroke-width="0.9"/>
<text x="386.00" y="174.30" font-size="6.3" text-anchor="end" font-weight="bold" font-family="Liberation Serif, serif" >2500</text>
<line x1="387.00" y1="198.60" x2="389.40" y2="198.60" stroke="#3a3a3a" stroke-width="0.9"/>
<text x="386.00" y="200.90" font-size="6.3" text-anchor="end" font-weight="bold" font-family="Liberation Serif, serif" >0</text>
<text x="365.40" y="159.80" font-size="7.45" text-anchor="middle" font-weight="bold" font-family="Liberation Serif, serif" transform="rotate(-90 365.40 159.80)" >RAGE (MFI)</text>
<line x1="396.55" y1="174.30" x2="396.55" y2="176.30" stroke="#3a3a3a" stroke-width="0.75"/>
<line x1="393.75" y1="176.30" x2="399.35" y2="176.30" stroke="#3a3a3a" stroke-width="0.75"/>
<rect x="391.60" y="171.45" width="9.90" height="2.70" fill="#fff" stroke="#3a3a3a" stroke-width="0.75"/>
<line x1="391.60" y1="172.80" x2="401.50" y2="172.80" stroke="#3a3a3a" stroke-width="0.75"/>
<line x1="412.75" y1="174.00" x2="412.75" y2="175.60" stroke="#3a3a3a" stroke-width="0.75"/>
<line x1="409.95" y1="174.00" x2="415.55" y2="174.00" stroke="#3a3a3a" stroke-width="0.75"/>
<line x1="412.75" y1="182.70" x2="412.75" y2="186.40" stroke="#3a3a3a" stroke-width="0.75"/>
<line x1="409.95" y1="186.40" x2="415.55" y2="186.40" stroke="#3a3a3a" stroke-width="0.75"/>
<rect x="407.60" y="175.75" width="10.30" height="6.80" fill="#fff" stroke="#3a3a3a" stroke-width="0.75"/>
<line x1="407.60" y1="178.30" x2="417.90" y2="178.30" stroke="#3a3a3a" stroke-width="0.75"/>
<line x1="428.65" y1="123.60" x2="428.65" y2="126.30" stroke="#3a3a3a" stroke-width="0.75"/>
<line x1="425.85" y1="123.60" x2="431.45" y2="123.60" stroke="#3a3a3a" stroke-width="0.75"/>
<line x1="428.65" y1="143.20" x2="428.65" y2="145.20" stroke="#3a3a3a" stroke-width="0.75"/>
<line x1="425.85" y1="145.20" x2="431.45" y2="145.20" stroke="#3a3a3a" stroke-width="0.75"/>
<rect x="423.60" y="126.45" width="10.10" height="16.60" fill="#fff" stroke="#3a3a3a" stroke-width="0.75"/>
<line x1="423.60" y1="135.20" x2="433.70" y2="135.20" stroke="#3a3a3a" stroke-width="0.75"/>
<line x1="444.90" y1="172.00" x2="444.90" y2="173.20" stroke="#3a3a3a" stroke-width="0.75"/>
<line x1="442.10" y1="172.00" x2="447.70" y2="172.00" stroke="#3a3a3a" stroke-width="0.75"/>
<line x1="444.90" y1="180.70" x2="444.90" y2="183.80" stroke="#3a3a3a" stroke-width="0.75"/>
<line x1="442.10" y1="183.80" x2="447.70" y2="183.80" stroke="#3a3a3a" stroke-width="0.75"/>
<rect x="439.90" y="173.35" width="10.00" height="7.20" fill="#fff" stroke="#3a3a3a" stroke-width="0.75"/>
<line x1="439.90" y1="177.70" x2="449.90" y2="177.70" stroke="#3a3a3a" stroke-width="0.75"/>
<line x1="460.95" y1="160.30" x2="460.95" y2="162.40" stroke="#3a3a3a" stroke-width="0.75"/>
<line x1="458.15" y1="160.30" x2="463.75" y2="160.30" stroke="#3a3a3a" stroke-width="0.75"/>
<line x1="460.95" y1="179.00" x2="460.95" y2="190.20" stroke="#3a3a3a" stroke-width="0.75"/>
<line x1="458.15" y1="190.20" x2="463.75" y2="190.20" stroke="#3a3a3a" stroke-width="0.75"/>
<rect x="455.90" y="162.55" width="10.10" height="16.30" fill="#fff" stroke="#3a3a3a" stroke-width="0.75"/>
<line x1="455.90" y1="166.60" x2="466.00" y2="166.60" stroke="#3a3a3a" stroke-width="0.75"/>
<line x1="477.25" y1="175.80" x2="477.25" y2="176.40" stroke="#3a3a3a" stroke-width="0.75"/>
<line x1="474.45" y1="175.80" x2="480.05" y2="175.80" stroke="#3a3a3a" stroke-width="0.75"/>
<line x1="477.25" y1="178.60" x2="477.25" y2="180.20" stroke="#3a3a3a" stroke-width="0.75"/>
<line x1="474.45" y1="180.20" x2="480.05" y2="180.20" stroke="#3a3a3a" stroke-width="0.75"/>
<rect x="472.30" y="176.55" width="9.90" height="1.90" fill="#fff" stroke="#3a3a3a" stroke-width="0.75"/>
<line x1="472.30" y1="177.50" x2="482.20" y2="177.50" stroke="#3a3a3a" stroke-width="0.75"/>
<line x1="493.35" y1="175.10" x2="493.35" y2="178.20" stroke="#3a3a3a" stroke-width="0.75"/>
<line x1="490.55" y1="175.10" x2="496.15" y2="175.10" stroke="#3a3a3a" stroke-width="0.75"/>
<rect x="488.50" y="178.35" width="9.70" height="8.90" fill="#fff" stroke="#3a3a3a" stroke-width="0.75"/>
<line x1="488.50" y1="184.80" x2="498.20" y2="184.80" stroke="#3a3a3a" stroke-width="0.75"/>
<line x1="509.30" y1="174.30" x2="509.30" y2="176.50" stroke="#3a3a3a" stroke-width="0.75"/>
<line x1="506.50" y1="174.30" x2="512.10" y2="174.30" stroke="#3a3a3a" stroke-width="0.75"/>
<line x1="509.30" y1="182.50" x2="509.30" y2="185.50" stroke="#3a3a3a" stroke-width="0.75"/>
<line x1="506.50" y1="185.50" x2="512.10" y2="185.50" stroke="#3a3a3a" stroke-width="0.75"/>
<rect x="504.40" y="176.65" width="9.80" height="5.70" fill="#fff" stroke="#3a3a3a" stroke-width="0.75"/>
<line x1="504.40" y1="179.40" x2="514.20" y2="179.40" stroke="#3a3a3a" stroke-width="0.75"/>
<text x="426.40" y="119.53" font-size="7.4" text-anchor="middle" font-weight="bold" font-family="Liberation Serif, serif" >*</text>
<text x="430.50" y="118.95" font-size="5.1" text-anchor="middle" font-weight="bold" font-family="Liberation Serif, serif" >†</text>
<text x="493.20" y="170.95" font-size="5.1" text-anchor="middle" font-weight="bold" font-family="Liberation Serif, serif" >†</text>
<text x="58.80" y="205.80" font-size="7.0" text-anchor="end" font-weight="bold" font-family="Liberation Serif, serif" transform="rotate(-90 58.80 205.80)" >CTR</text>
<text x="74.00" y="205.80" font-size="7.0" text-anchor="end" font-weight="bold" font-family="Liberation Serif, serif" transform="rotate(-90 74.00 205.80)" >LPS</text>
<text x="92.00" y="207.20" font-size="7.0" text-anchor="end" font-weight="bold" font-family="Liberation Serif, serif" transform="rotate(-90 92.00 207.20)" >G-β<tspan font-size='4.6' dy='1.3'>2</tspan><tspan dy='-1.3'>GPI</tspan></text>
<text x="107.90" y="204.10" font-size="7.0" text-anchor="end" font-weight="bold" font-family="Liberation Serif, serif" transform="rotate(-90 107.90 204.10)" >M-β<tspan font-size='4.6' dy='1.3'>2</tspan><tspan dy='-1.3'>GPI</tspan></text>
<text x="124.10" y="206.10" font-size="7.0" text-anchor="end" font-weight="bold" font-family="Liberation Serif, serif" transform="rotate(-90 124.10 206.10)" >Glucose</text>
<text x="140.00" y="204.10" font-size="7.0" text-anchor="end" font-weight="bold" font-family="Liberation Serif, serif" transform="rotate(-90 140.00 204.10)" >Mannitol</text>
<text x="157.60" y="204.80" font-size="7.0" text-anchor="end" font-weight="bold" font-family="Liberation Serif, serif" transform="rotate(-90 157.60 204.80)" >G-β<tspan font-size='4.6' dy='1.3'>2</tspan><tspan dy='-1.3'>GPI</tspan></text>
<text x="173.50" y="203.40" font-size="7.0" text-anchor="end" font-weight="bold" font-family="Liberation Serif, serif" transform="rotate(-90 173.50 203.40)" >M-β<tspan font-size='4.6' dy='1.3'>2</tspan><tspan dy='-1.3'>GPI</tspan></text>
<line x1="151.30" y1="231.40" x2="151.30" y2="233.50" stroke="#333" stroke-width="0.9"/>
<line x1="173.60" y1="231.40" x2="173.60" y2="233.50" stroke="#333" stroke-width="0.9"/>
<line x1="150.85" y1="233.50" x2="174.05" y2="233.50" stroke="#333" stroke-width="0.9"/>
<text x="163.10" y="243.10" font-size="5.9" text-anchor="middle" font-weight="bold" font-family="Liberation Serif, serif" >+α-RAGE</text>
<text x="232.60" y="205.00" font-size="7.0" text-anchor="end" font-weight="bold" font-family="Liberation Serif, serif" transform="rotate(-90 232.60 205.00)" >CTR</text>
<text x="248.70" y="205.00" font-size="7.0" text-anchor="end" font-weight="bold" font-family="Liberation Serif, serif" transform="rotate(-90 248.70 205.00)" >LPS</text>
<text x="264.00" y="205.40" font-size="7.0" text-anchor="end" font-weight="bold" font-family="Liberation Serif, serif" transform="rotate(-90 264.00 205.40)" >G-β<tspan font-size='4.6' dy='1.3'>2</tspan><tspan dy='-1.3'>GPI</tspan></text>
<text x="278.50" y="204.50" font-size="7.0" text-anchor="end" font-weight="bold" font-family="Liberation Serif, serif" transform="rotate(-90 278.50 204.50)" >M-β<tspan font-size='4.6' dy='1.3'>2</tspan><tspan dy='-1.3'>GPI</tspan></text>
<text x="295.40" y="205.40" font-size="7.0" text-anchor="end" font-weight="bold" font-family="Liberation Serif, serif" transform="rotate(-90 295.40 205.40)" >Glucose</text>
<text x="311.00" y="204.50" font-size="7.0" text-anchor="end" font-weight="bold" font-family="Liberation Serif, serif" transform="rotate(-90 311.00 204.50)" >Mannitol</text>
<text x="327.60" y="204.50" font-size="7.0" text-anchor="end" font-weight="bold" font-family="Liberation Serif, serif" transform="rotate(-90 327.60 204.50)" >G-β<tspan font-size='4.6' dy='1.3'>2</tspan><tspan dy='-1.3'>GPI</tspan></text>
<text x="343.50" y="204.10" font-size="7.0" text-anchor="end" font-weight="bold" font-family="Liberation Serif, serif" transform="rotate(-90 343.50 204.10)" >M-β<tspan font-size='4.6' dy='1.3'>2</tspan><tspan dy='-1.3'>GPI</tspan></text>
<line x1="322.00" y1="231.80" x2="322.00" y2="233.90" stroke="#333" stroke-width="0.9"/>
<line x1="344.30" y1="231.80" x2="344.30" y2="233.90" stroke="#333" stroke-width="0.9"/>
<line x1="321.55" y1="233.90" x2="344.75" y2="233.90" stroke="#333" stroke-width="0.9"/>
<text x="334.50" y="243.10" font-size="5.9" text-anchor="middle" font-weight="bold" font-family="Liberation Serif, serif" >+α-RAGE</text>
<text x="400.80" y="204.10" font-size="7.0" text-anchor="end" font-weight="bold" font-family="Liberation Serif, serif" transform="rotate(-90 400.80 204.10)" >CTR</text>
<text x="417.30" y="204.10" font-size="7.0" text-anchor="end" font-weight="bold" font-family="Liberation Serif, serif" transform="rotate(-90 417.30 204.10)" >LPS</text>
<text x="432.60" y="204.80" font-size="7.0" text-anchor="end" font-weight="bold" font-family="Liberation Serif, serif" transform="rotate(-90 432.60 204.80)" >G-β<tspan font-size='4.6' dy='1.3'>2</tspan><tspan dy='-1.3'>GPI</tspan></text>
<text x="447.50" y="204.10" font-size="7.0" text-anchor="end" font-weight="bold" font-family="Liberation Serif, serif" transform="rotate(-90 447.50 204.10)" >M-β<tspan font-size='4.6' dy='1.3'>2</tspan><tspan dy='-1.3'>GPI</tspan></text>
<text x="463.50" y="204.80" font-size="7.0" text-anchor="end" font-weight="bold" font-family="Liberation Serif, serif" transform="rotate(-90 463.50 204.80)" >Glucose</text>
<text x="479.10" y="204.10" font-size="7.0" text-anchor="end" font-weight="bold" font-family="Liberation Serif, serif" transform="rotate(-90 479.10 204.10)" >Mannitol</text>
<text x="495.90" y="204.10" font-size="7.0" text-anchor="end" font-weight="bold" font-family="Liberation Serif, serif" transform="rotate(-90 495.90 204.10)" >G-β<tspan font-size='4.6' dy='1.3'>2</tspan><tspan dy='-1.3'>GPI</tspan></text>
<text x="512.80" y="203.70" font-size="7.0" text-anchor="end" font-weight="bold" font-family="Liberation Serif, serif" transform="rotate(-90 512.80 203.70)" >M-β<tspan font-size='4.6' dy='1.3'>2</tspan><tspan dy='-1.3'>GPI</tspan></text>
<line x1="490.30" y1="231.40" x2="490.30" y2="233.50" stroke="#333" stroke-width="0.9"/>
<line x1="513.30" y1="231.40" x2="513.30" y2="233.50" stroke="#333" stroke-width="0.9"/>
<line x1="489.85" y1="233.50" x2="513.75" y2="233.50" stroke="#333" stroke-width="0.9"/>
<text x="503.10" y="243.10" font-size="5.9" text-anchor="middle" font-weight="bold" font-family="Liberation Serif, serif" >+α-RAGE</text>
<line x1="225.90" y1="271.30" x2="225.90" y2="343.00" stroke="#3a3a3a" stroke-width="0.9"/>
<line x1="225.50" y1="342.60" x2="364.80" y2="342.60" stroke="#3a3a3a" stroke-width="0.9"/>
<line x1="223.50" y1="342.60" x2="225.90" y2="342.60" stroke="#3a3a3a" stroke-width="0.9"/>
<text x="0" y="0" font-size="4.8" text-anchor="end" font-weight="bold" font-family="Liberation Serif, serif" transform="translate(222.80 344.20) scale(1.32 1)" style="stroke:none;fill:#222">0</text>
<line x1="223.50" y1="333.74" x2="225.90" y2="333.74" stroke="#3a3a3a" stroke-width="0.9"/>
<text x="0" y="0" font-size="4.8" text-anchor="end" font-weight="bold" font-family="Liberation Serif, serif" transform="translate(222.80 335.34) scale(1.32 1)" style="stroke:none;fill:#222">1000</text>
<line x1="223.50" y1="324.88" x2="225.90" y2="324.88" stroke="#3a3a3a" stroke-width="0.9"/>
<text x="0" y="0" font-size="4.8" text-anchor="end" font-weight="bold" font-family="Liberation Serif, serif" transform="translate(222.80 326.48) scale(1.32 1)" style="stroke:none;fill:#222">2000</text>
<line x1="223.50" y1="316.01" x2="225.90" y2="316.01" stroke="#3a3a3a" stroke-width="0.9"/>
<text x="0" y="0" font-size="4.8" text-anchor="end" font-weight="bold" font-family="Liberation Serif, serif" transform="translate(222.80 317.61) scale(1.32 1)" style="stroke:none;fill:#222">3000</text>
<line x1="223.50" y1="307.15" x2="225.90" y2="307.15" stroke="#3a3a3a" stroke-width="0.9"/>
<text x="0" y="0" font-size="4.8" text-anchor="end" font-weight="bold" font-family="Liberation Serif, serif" transform="translate(222.80 308.75) scale(1.32 1)" style="stroke:none;fill:#222">4000</text>
<line x1="223.50" y1="298.29" x2="225.90" y2="298.29" stroke="#3a3a3a" stroke-width="0.9"/>
<text x="0" y="0" font-size="4.8" text-anchor="end" font-weight="bold" font-family="Liberation Serif, serif" transform="translate(222.80 299.89) scale(1.32 1)" style="stroke:none;fill:#222">5000</text>
<line x1="223.50" y1="289.43" x2="225.90" y2="289.43" stroke="#3a3a3a" stroke-width="0.9"/>
<text x="0" y="0" font-size="4.8" text-anchor="end" font-weight="bold" font-family="Liberation Serif, serif" transform="translate(222.80 291.03) scale(1.32 1)" style="stroke:none;fill:#222">6000</text>
<line x1="223.50" y1="280.56" x2="225.90" y2="280.56" stroke="#3a3a3a" stroke-width="0.9"/>
<text x="0" y="0" font-size="4.8" text-anchor="end" font-weight="bold" font-family="Liberation Serif, serif" transform="translate(222.80 282.16) scale(1.32 1)" style="stroke:none;fill:#222">7000</text>
<line x1="223.50" y1="271.70" x2="225.90" y2="271.70" stroke="#3a3a3a" stroke-width="0.9"/>
<text x="0" y="0" font-size="4.8" text-anchor="end" font-weight="bold" font-family="Liberation Serif, serif" transform="translate(222.80 273.30) scale(1.32 1)" style="stroke:none;fill:#222">8000</text>
<text x="202.20" y="307.40" font-size="6.2" text-anchor="middle" font-weight="bold" font-family="Liberation Serif, serif" transform="rotate(-90 202.20 307.40)" >RAGE (MFI)</text>
<line x1="233.70" y1="327.80" x2="233.70" y2="328.30" stroke="#3a3a3a" stroke-width="0.75"/>
<line x1="231.70" y1="327.80" x2="235.70" y2="327.80" stroke="#3a3a3a" stroke-width="0.75"/>
<rect x="228.60" y="328.30" width="10.20" height="14.30" fill="#fff" stroke="#555" stroke-width="0.75"/>
<text x="0" y="0" font-size="4.6" text-anchor="middle" font-weight="bold" font-family="Liberation Serif, serif" transform="translate(233.70 349.60) scale(1.32 1)" style="stroke:none;fill:#222">0 h</text>
<line x1="249.10" y1="307.30" x2="249.10" y2="307.90" stroke="#3a3a3a" stroke-width="0.75"/>
<line x1="247.10" y1="307.30" x2="251.10" y2="307.30" stroke="#3a3a3a" stroke-width="0.75"/>
<rect x="243.90" y="307.90" width="10.40" height="34.70" fill="#fff" stroke="#555" stroke-width="0.75"/>
<text x="0" y="0" font-size="4.6" text-anchor="middle" font-weight="bold" font-family="Liberation Serif, serif" transform="translate(249.10 349.60) scale(1.32 1)" style="stroke:none;fill:#222">4 h</text>
<line x1="264.65" y1="300.60" x2="264.65" y2="301.10" stroke="#3a3a3a" stroke-width="0.75"/>
<line x1="262.65" y1="300.60" x2="266.65" y2="300.60" stroke="#3a3a3a" stroke-width="0.75"/>
<rect x="259.40" y="301.10" width="10.50" height="41.50" fill="#fff" stroke="#555" stroke-width="0.75"/>
<text x="0" y="0" font-size="4.6" text-anchor="middle" font-weight="bold" font-family="Liberation Serif, serif" transform="translate(264.65 349.60) scale(1.32 1)" style="stroke:none;fill:#222">12 h</text>
<line x1="280.25" y1="281.90" x2="280.25" y2="286.50" stroke="#3a3a3a" stroke-width="0.75"/>
<line x1="278.25" y1="281.90" x2="282.25" y2="281.90" stroke="#3a3a3a" stroke-width="0.75"/>
<rect x="275.00" y="286.50" width="10.50" height="56.10" fill="#fff" stroke="#555" stroke-width="0.75"/>
<text x="0" y="0" font-size="4.6" text-anchor="middle" font-weight="bold" font-family="Liberation Serif, serif" transform="translate(280.25 349.60) scale(1.32 1)" style="stroke:none;fill:#222">18 h</text>
<line x1="295.75" y1="280.50" x2="295.75" y2="281.00" stroke="#3a3a3a" stroke-width="0.75"/>
<line x1="293.75" y1="280.50" x2="297.75" y2="280.50" stroke="#3a3a3a" stroke-width="0.75"/>
<rect x="290.50" y="281.00" width="10.50" height="61.60" fill="#fff" stroke="#555" stroke-width="0.75"/>
<text x="0" y="0" font-size="4.6" text-anchor="middle" font-weight="bold" font-family="Liberation Serif, serif" transform="translate(295.75 349.60) scale(1.32 1)" style="stroke:none;fill:#222">24 h</text>
<line x1="311.25" y1="275.80" x2="311.25" y2="276.30" stroke="#3a3a3a" stroke-width="0.75"/>
<line x1="309.25" y1="275.80" x2="313.25" y2="275.80" stroke="#3a3a3a" stroke-width="0.75"/>
<rect x="306.00" y="276.30" width="10.50" height="66.30" fill="#fff" stroke="#555" stroke-width="0.75"/>
<text x="0" y="0" font-size="4.6" text-anchor="middle" font-weight="bold" font-family="Liberation Serif, serif" transform="translate(311.25 349.60) scale(1.32 1)" style="stroke:none;fill:#222">30 h</text>
<line x1="326.80" y1="274.90" x2="326.80" y2="275.40" stroke="#3a3a3a" stroke-width="0.75"/>
<line x1="324.80" y1="274.90" x2="328.80" y2="274.90" stroke="#3a3a3a" stroke-width="0.75"/>
<rect x="321.50" y="275.40" width="10.60" height="67.20" fill="#fff" stroke="#555" stroke-width="0.75"/>
<text x="0" y="0" font-size="4.6" text-anchor="middle" font-weight="bold" font-family="Liberation Serif, serif" transform="translate(326.80 349.60) scale(1.32 1)" style="stroke:none;fill:#222">48 h</text>
<line x1="342.40" y1="301.00" x2="342.40" y2="302.60" stroke="#3a3a3a" stroke-width="0.75"/>
<line x1="340.40" y1="301.00" x2="344.40" y2="301.00" stroke="#3a3a3a" stroke-width="0.75"/>
<rect x="337.30" y="302.60" width="10.20" height="40.00" fill="#fff" stroke="#555" stroke-width="0.75"/>
<text x="0" y="0" font-size="4.6" text-anchor="middle" font-weight="bold" font-family="Liberation Serif, serif" transform="translate(342.40 349.60) scale(1.32 1)" style="stroke:none;fill:#222">60 h</text>
<line x1="357.80" y1="317.30" x2="357.80" y2="318.10" stroke="#3a3a3a" stroke-width="0.75"/>
<line x1="355.80" y1="317.30" x2="359.80" y2="317.30" stroke="#3a3a3a" stroke-width="0.75"/>
<rect x="352.50" y="318.10" width="10.60" height="24.50" fill="#fff" stroke="#555" stroke-width="0.75"/>
<text x="0" y="0" font-size="4.6" text-anchor="middle" font-weight="bold" font-family="Liberation Serif, serif" transform="translate(357.80 349.60) scale(1.32 1)" style="stroke:none;fill:#222">72 h</text>
<text x="0" y="0" font-size="5.8" text-anchor="middle" font-weight="bold" font-family="Liberation Serif, serif" transform="translate(296.20 359.00) scale(1.37 1)" >Time</text>
<line x1="239.70" y1="262.20" x2="352.00" y2="262.20" stroke="#3a3a3a" stroke-width="0.7"/>
<line x1="239.70" y1="262.20" x2="239.70" y2="264.00" stroke="#3a3a3a" stroke-width="0.7"/>
<line x1="352.00" y1="262.20" x2="352.00" y2="264.00" stroke="#3a3a3a" stroke-width="0.7"/>
<text x="295.60" y="259.53" font-size="7.4" text-anchor="middle" font-weight="bold" font-family="Liberation Serif, serif" >*</text>
<text x="357.80" y="314.45" font-size="5.1" text-anchor="middle" font-weight="bold" font-family="Liberation Serif, serif" >†</text>
<text x="11.30" y="9.90" font-size="12" text-anchor="middle" font-weight="bold" font-family="Liberation Sans, serif" >A</text>
<text x="193.80" y="267.90" font-size="12" text-anchor="middle" font-weight="bold" font-family="Liberation Sans, serif" >B</text>
</svg>
</body></html>
